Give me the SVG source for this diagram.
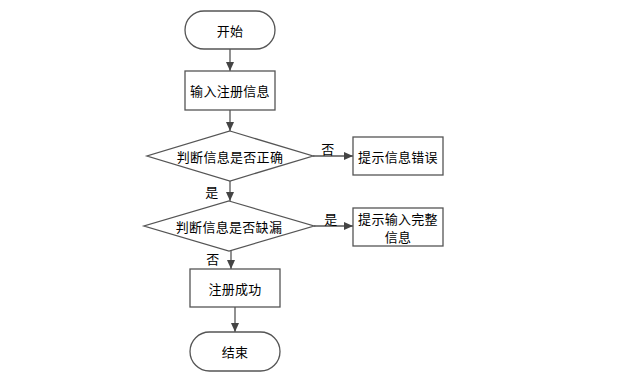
<svg xmlns="http://www.w3.org/2000/svg" width="625" height="391" viewBox="0 0 625 391">
<style>
.n{fill:#fff;stroke:#555;stroke-width:1.3}
.t{font-family:"Noto Sans CJK SC","Liberation Sans",sans-serif;font-size:13px;fill:#000;text-anchor:middle;dominant-baseline:central;letter-spacing:0.3px}
.c{stroke:#555;stroke-width:1.3;fill:none;marker-end:url(#a)}
</style>
<defs>
<marker id="a" markerWidth="10" markerHeight="10" refX="9" refY="5" orient="auto" markerUnits="userSpaceOnUse">
<path d="M0,1 L9,5 L0,9 Z" fill="#444"/>
</marker>
</defs>
<rect width="625" height="391" fill="#fff"/>
<g id="connectors">
<line class="c" x1="230" y1="49" x2="230" y2="71"/>
<line class="c" x1="230" y1="110" x2="230" y2="131"/>
<line class="c" x1="313" y1="156" x2="353" y2="156"/>
<line class="c" x1="230" y1="181" x2="230" y2="201"/>
<line class="c" x1="314" y1="226" x2="353" y2="226"/>
<line class="c" x1="231" y1="251" x2="231" y2="269"/>
<line class="c" x1="235" y1="307" x2="235" y2="332"/>
<text class="t" x="328" y="148">否</text>
<text class="t" x="212" y="191">是</text>
<text class="t" x="331" y="218">是</text>
<text class="t" x="213" y="258">否</text>
</g>
<g id="start"><rect class="n" x="185" y="11" width="90" height="38" rx="19"/><text class="t" x="230" y="30">开始</text></g>
<g id="input"><rect class="n" x="185" y="71" width="90" height="39"/><text class="t" x="230" y="90.5">输入注册信息</text></g>
<g id="check1"><polygon class="n" points="230,131 313,156 230,181 147,156"/><text class="t" x="230" y="156">判断信息是否正确</text></g>
<g id="err"><rect class="n" x="353" y="137" width="90" height="38"/><text class="t" x="398" y="156">提示信息错误</text></g>
<g id="check2"><polygon class="n" points="229,201 314,226 229,251 144,226"/><text class="t" x="229" y="226">判断信息是否缺漏</text></g>
<g id="complete"><rect class="n" x="353" y="208" width="90" height="38"/><text class="t" x="398" y="218">提示输入完整</text><text class="t" x="398" y="236">信息</text></g>
<g id="success"><rect class="n" x="190" y="269" width="90" height="38"/><text class="t" x="235" y="288">注册成功</text></g>
<g id="end"><rect class="n" x="190" y="332" width="90" height="39" rx="19.5"/><text class="t" x="235" y="351.5">结束</text></g>
</svg>
